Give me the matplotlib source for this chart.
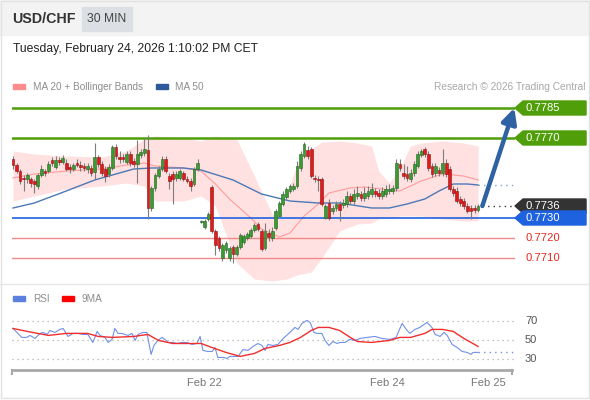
import numpy as np
import matplotlib.pyplot as plt
from matplotlib.patches import Rectangle, Polygon
from matplotlib.lines import Line2D
from matplotlib.transforms import blended_transform_factory

plt.rcParams['font.family'] = ['Liberation Sans', 'DejaVu Sans']

# 30 min candles (USD/CHF)
opens = [0.77595, 0.77565, 0.77535, 0.77500, 0.77495, 0.77495, 0.77485, 0.77460, 0.77515, 0.77535,
         0.77535, 0.77590, 0.77555, 0.77590, 0.77580, 0.77575, 0.77555, 0.77545, 0.77575, 0.77565,
         0.77560, 0.77545, 0.77550, 0.77530, 0.77605, 0.77570, 0.77545, 0.77520, 0.77550, 0.77655,
         0.77605, 0.77605, 0.77580, 0.77620, 0.77585, 0.77570, 0.77615, 0.77625, 0.77640, 0.77350,
         0.77450, 0.77510, 0.77545, 0.77595, 0.77510, 0.77520, 0.77500, 0.77500, 0.77525, 0.77495,
         0.77485, 0.77470, 0.77545, 0.77280, 0.77255, 0.77295, 0.77455, 0.77235, 0.77200, 0.77100,
         0.77140, 0.77100, 0.77155, 0.77120, 0.77155, 0.77180, 0.77200, 0.77210, 0.77240, 0.77270,
         0.77235, 0.77150, 0.77225, 0.77200, 0.77250, 0.77310, 0.77370, 0.77405, 0.77435, 0.77445,
         0.77460, 0.77550, 0.77610, 0.77640, 0.77645, 0.77500, 0.77495, 0.77495, 0.77300, 0.77375,
         0.77335, 0.77350, 0.77370, 0.77365, 0.77370, 0.77410, 0.77385, 0.77410, 0.77420, 0.77400,
         0.77410, 0.77420, 0.77435, 0.77425, 0.77410, 0.77420, 0.77435, 0.77435, 0.77450, 0.77570,
         0.77525, 0.77520, 0.77495, 0.77525, 0.77560, 0.77615, 0.77645, 0.77620, 0.77560, 0.77525,
         0.77540, 0.77525, 0.77575, 0.77545, 0.77445, 0.77435, 0.77395, 0.77385, 0.77360, 0.77350,
         0.77350, 0.77340]
highs = [0.77610, 0.77575, 0.77545, 0.77515, 0.77525, 0.77505, 0.77495, 0.77525, 0.77565, 0.77545,
         0.77585, 0.77605, 0.77610, 0.77605, 0.77615, 0.77595, 0.77570, 0.77575, 0.77595, 0.77585,
         0.77575, 0.77575, 0.77565, 0.77675, 0.77615, 0.77585, 0.77560, 0.77570, 0.77665, 0.77670,
         0.77635, 0.77620, 0.77635, 0.77635, 0.77600, 0.77690, 0.77645, 0.77700, 0.77715, 0.77460,
         0.77525, 0.77560, 0.77610, 0.77610, 0.77525, 0.77535, 0.77535, 0.77545, 0.77535, 0.77510,
         0.77500, 0.77555, 0.77595, 0.77290, 0.77295, 0.77330, 0.77465, 0.77245, 0.77210, 0.77175,
         0.77185, 0.77160, 0.77165, 0.77165, 0.77225, 0.77220, 0.77230, 0.77250, 0.77275, 0.77280,
         0.77245, 0.77275, 0.77245, 0.77255, 0.77345, 0.77385, 0.77435, 0.77455, 0.77470, 0.77475,
         0.77585, 0.77635, 0.77680, 0.77660, 0.77655, 0.77515, 0.77510, 0.77505, 0.77370, 0.77395,
         0.77365, 0.77385, 0.77385, 0.77395, 0.77435, 0.77425, 0.77445, 0.77460, 0.77435, 0.77455,
         0.77460, 0.77475, 0.77450, 0.77445, 0.77455, 0.77465, 0.77470, 0.77465, 0.77595, 0.77595,
         0.77570, 0.77560, 0.77545, 0.77585, 0.77635, 0.77645, 0.77655, 0.77635, 0.77575, 0.77575,
         0.77555, 0.77645, 0.77595, 0.77560, 0.77460, 0.77455, 0.77410, 0.77400, 0.77375, 0.77365,
         0.77365, 0.77370]
lows = [0.77545, 0.77525, 0.77470, 0.77435, 0.77475, 0.77455, 0.77425, 0.77445, 0.77505, 0.77510,
        0.77525, 0.77560, 0.77545, 0.77565, 0.77570, 0.77535, 0.77525, 0.77535, 0.77555, 0.77535,
        0.77535, 0.77525, 0.77510, 0.77495, 0.77555, 0.77510, 0.77480, 0.77505, 0.77540, 0.77595,
        0.77575, 0.77580, 0.77570, 0.77560, 0.77555, 0.77475, 0.77600, 0.77610, 0.77295, 0.77335,
        0.77435, 0.77500, 0.77535, 0.77525, 0.77445, 0.77370, 0.77485, 0.77490, 0.77485, 0.77475,
        0.77435, 0.77460, 0.77535, 0.77275, 0.77245, 0.77285, 0.77225, 0.77115, 0.77135, 0.77085,
        0.77125, 0.77085, 0.77075, 0.77110, 0.77145, 0.77170, 0.77190, 0.77200, 0.77230, 0.77235,
        0.77135, 0.77140, 0.77185, 0.77185, 0.77240, 0.77300, 0.77360, 0.77395, 0.77425, 0.77435,
        0.77450, 0.77535, 0.77600, 0.77595, 0.77500, 0.77480, 0.77435, 0.77360, 0.77295, 0.77290,
        0.77320, 0.77335, 0.77285, 0.77350, 0.77355, 0.77370, 0.77370, 0.77395, 0.77385, 0.77385,
        0.77395, 0.77405, 0.77405, 0.77395, 0.77395, 0.77405, 0.77420, 0.77420, 0.77435, 0.77535,
        0.77495, 0.77485, 0.77480, 0.77510, 0.77550, 0.77605, 0.77605, 0.77535, 0.77505, 0.77510,
        0.77510, 0.77510, 0.77505, 0.77435, 0.77410, 0.77375, 0.77360, 0.77345, 0.77325, 0.77295,
        0.77325, 0.77330]
closes = [0.77565, 0.77535, 0.77485, 0.77495, 0.77515, 0.77475, 0.77470, 0.77515, 0.77545, 0.77525,
          0.77570, 0.77575, 0.77590, 0.77580, 0.77600, 0.77545, 0.77545, 0.77565, 0.77565, 0.77555,
          0.77550, 0.77560, 0.77525, 0.77605, 0.77570, 0.77525, 0.77510, 0.77555, 0.77655, 0.77610,
          0.77595, 0.77595, 0.77620, 0.77575, 0.77570, 0.77620, 0.77630, 0.77645, 0.77350, 0.77450,
          0.77515, 0.77545, 0.77595, 0.77535, 0.77485, 0.77495, 0.77520, 0.77535, 0.77495, 0.77485,
          0.77460, 0.77545, 0.77575, 0.77285, 0.77285, 0.77320, 0.77235, 0.77165, 0.77150, 0.77165,
          0.77175, 0.77150, 0.77120, 0.77155, 0.77215, 0.77210, 0.77220, 0.77240, 0.77265, 0.77245,
          0.77145, 0.77235, 0.77205, 0.77235, 0.77335, 0.77375, 0.77420, 0.77445, 0.77460, 0.77460,
          0.77560, 0.77620, 0.77670, 0.77610, 0.77510, 0.77495, 0.77490, 0.77370, 0.77360, 0.77300,
          0.77350, 0.77370, 0.77340, 0.77375, 0.77410, 0.77385, 0.77420, 0.77425, 0.77400, 0.77425,
          0.77435, 0.77445, 0.77420, 0.77410, 0.77435, 0.77445, 0.77445, 0.77450, 0.77575, 0.77550,
          0.77510, 0.77500, 0.77525, 0.77570, 0.77620, 0.77635, 0.77620, 0.77550, 0.77520, 0.77560,
          0.77525, 0.77575, 0.77520, 0.77445, 0.77425, 0.77385, 0.77375, 0.77360, 0.77335, 0.77335,
          0.77340, 0.77360]

# MA 50, MA 20 and Bollinger bands sampled at candle positions
ma50_pos = [0, 6, 15, 23, 28, 34, 39, 48, 53, 62, 70, 78, 86, 92, 101, 106, 111, 116, 120, 124, 128, 131]
ma50 = [0.77350, 0.77375, 0.77435, 0.77490, 0.77515, 0.77545, 0.77550, 0.77550, 0.77540, 0.77490, 0.77420,
        0.77385, 0.77375, 0.77375, 0.77350, 0.77350, 0.77370, 0.77395, 0.77435, 0.77470, 0.77470, 0.77465]
ma20_pos = [0, 6, 15, 25, 32, 37, 40, 48, 53, 57, 61, 67, 70, 75, 78, 82, 86, 89, 95, 99, 106, 109,
            115, 121, 127, 131]
ma20 = [0.77500, 0.77520, 0.77535, 0.77545, 0.77565, 0.77575, 0.77560, 0.77550, 0.77535, 0.77470, 0.77395,
        0.77300, 0.77245, 0.77205, 0.77225, 0.77310, 0.77370, 0.77425, 0.77450, 0.77455, 0.77440, 0.77435,
        0.77485, 0.77520, 0.77510, 0.77490]
bb_pos = [0, 6, 15, 25, 32, 37, 40, 48, 53, 57, 63, 68, 73, 75, 77, 80, 84, 87, 92, 97, 101, 103, 106,
          109, 112, 115, 121, 127, 131]
bb_upper = [0.77635, 0.77620, 0.77610, 0.77605, 0.77635, 0.77695, 0.77710, 0.77700, 0.77685, 0.77710,
            0.77695, 0.77510, 0.77320, 0.77310, 0.77410, 0.77570, 0.77645, 0.77680, 0.77685, 0.77675,
            0.77660, 0.77535, 0.77475, 0.77550, 0.77660, 0.77675, 0.77685, 0.77675, 0.77660]
bb_lower = [0.77385, 0.77410, 0.77445, 0.77460, 0.77475, 0.77460, 0.77385, 0.77385, 0.77410, 0.77360,
            0.77075, 0.76995, 0.76985, 0.76990, 0.76995, 0.77015, 0.77030, 0.77100, 0.77235, 0.77270,
            0.77275, 0.77295, 0.77300, 0.77310, 0.77310, 0.77310, 0.77295, 0.77285, 0.77285]

# key levels
resist_levels = [0.7785, 0.7770]
support_levels = [0.7730]
lower_levels = [0.7720, 0.7710]
last_price = 0.7736
target = 0.7785

# RSI panel
rsi_pos = [0, 1.4, 2.5, 3.9, 4.8, 6.2, 7.6, 8.5, 9.6, 10.4, 11.8, 13.2, 14.1, 15.5, 16.9, 18.3, 19.7, 21.1,
           22.5, 23.7, 24.5, 25.9, 26.8, 27.9, 28.7, 29.6, 30.7, 31.5, 32.4, 33.5, 34.4, 35.2, 36.6, 37.7,
           38.9, 39.7, 40.8, 42, 42.8, 43.7, 45.1, 46.2, 47.6, 49, 50.4, 51.8, 52.7, 53.5, 54.9, 56.1, 56.9,
           57.7, 59.2, 60.3, 61.1, 62, 63.4, 64.8, 66.2, 67.6, 69, 70.1, 71, 71.8, 73.2, 74.6, 76.1, 78,
           79.4, 80.3, 81.4, 82.8, 83.7, 84.8, 85.6, 87, 87.9, 89, 90.1, 91.3, 92.1, 93.5, 94.9, 96.3, 97.7,
           99.7, 102, 103.9, 106.2, 107.9, 109.6, 111, 111.8, 113.2, 114.6, 116.6, 118, 118.9, 120.3, 121.4,
           122.3, 123.7, 125.1, 126.5, 127.9, 129, 129.6, 131]
rsi = [62.6, 57.4, 53.2, 53.2, 55.3, 52.1, 57.4, 58.4, 56.3, 60.5, 58.4, 61.6, 62.6, 54.2, 57.4, 57.4, 56.3,
       56.3, 47.9, 59.5, 55.3, 53.2, 47.9, 51.1, 62.6, 57.4, 57.4, 56.3, 55.3, 57.4, 50.0, 56.3, 58.4, 58.4,
       35.3, 44.7, 50.0, 53.2, 51.1, 47.9, 47.9, 46.8, 47.9, 47.9, 45.8, 46.8, 54.2, 39.5, 38.4, 38.4, 42.6,
       32.1, 32.1, 31.1, 33.2, 33.2, 33.2, 40.5, 39.5, 43.7, 46.8, 44.7, 39.5, 45.8, 44.7, 45.8, 52.1, 58.4,
       63.7, 61.6, 67.9, 71.1, 68.9, 58.4, 57.4, 57.4, 50.0, 44.7, 48.9, 46.8, 47.9, 47.9, 51.1, 50.0, 52.1,
       53.2, 54.2, 52.1, 51.1, 53.2, 67.9, 60.5, 57.4, 61.6, 63.7, 68.9, 63.7, 56.3, 54.2, 58.4, 55.3, 45.8,
       42.6, 38.4, 37.4, 35.3, 37.4, 37.4]
rsi_ma_pos = [0, 4, 10, 15, 21, 24, 28, 34, 38, 41, 45, 49, 53, 56, 60, 64, 68, 71, 75, 78, 81, 84, 86, 89,
              92, 95, 97, 101, 106, 109, 112, 116, 118, 121, 124, 127, 131]
rsi_ma = [62.6, 59.5, 55.3, 57.4, 57.4, 54.2, 53.2, 54.2, 56.3, 50.0, 46.8, 46.8, 46.8, 42.6, 37.4, 33.2,
          36.3, 41.6, 44.7, 47.9, 53.2, 60.5, 63.7, 63.7, 60.5, 53.2, 48.9, 47.9, 50.0, 53.2, 53.2, 57.4, 61.6,
          61.6, 59.5, 52.1, 43.7]
rsi_levels = [70, 50, 30]

date_pos = [53.8, 105.4, 133.8]
date_labels = ['Feb 22', 'Feb 24', 'Feb 25']

W, H = 590, 400
fig = plt.figure(figsize=(W / 100, H / 100), dpi=100)
fig.patch.set_facecolor('white')


def fx(x):
    return x / W


def fy(y):
    return 1 - y / H


# header
fig.add_artist(Rectangle((0, fy(35)), 1, 35 / H, transform=fig.transFigure,
                         color='#f3f3f3', zorder=0))
fig.add_artist(Rectangle((fx(82), fy(31)), 50 / W, 24 / H, transform=fig.transFigure,
                         color='#dcdfe3', zorder=1))
fig.text(fx(12), fy(19), 'USD/CHF', fontsize=10.3, fontweight='bold', color='#333333', va='center')
fig.text(fx(107), fy(19), '30 MIN', fontsize=8.7, color='#444444', va='center', ha='center')
fig.text(fx(13), fy(49), 'Tuesday, February 24, 2026 1:10:02 PM CET', fontsize=8.7,
         color='#222222', va='center')

# legend row
fig.add_artist(Rectangle((fx(13), fy(89)), 12 / W, 5 / H, transform=fig.transFigure, color='#ff8c8c'))
fig.text(fx(33), fy(86.5), 'MA 20 + Bollinger Bands', fontsize=7.2, color='#8c8c8c', va='center')
fig.add_artist(Rectangle((fx(156), fy(89)), 12 / W, 5 / H, transform=fig.transFigure, color='#2d5a9a'))
fig.text(fx(175), fy(86.5), 'MA 50', fontsize=7.2, color='#8c8c8c', va='center')
fig.text(fx(586), fy(86.5), 'Research \u00a9 2026 Trading Central', fontsize=7.3, color='#a8a8a8',
         va='center', ha='right')

# separators and frame
fig.add_artist(Line2D([0, 1], [fy(284), fy(284)], transform=fig.transFigure, color='#e6e6e6', lw=1))
fig.add_artist(Rectangle((0.001, 0.006), 0.997, 0.992, transform=fig.transFigure, fill=False,
                         edgecolor='#e2e2e2', lw=1))

# price panel
ax = fig.add_axes([fx(12), fy(285), (515 - 12) / W, (285 - 96) / H])
ax.set_xlim(-0.28, 141.4)
ax.set_ylim(0.76965, 0.7791)
ax.axis('off')

o = np.array(opens)
c = np.array(closes)
hi = np.array(highs)
lo = np.array(lows)
idx = np.arange(len(c))
up = c >= o
body = np.maximum(np.abs(c - o), 0.00002)
bottom = np.minimum(o, c)

ax.fill_between(bb_pos, bb_lower, bb_upper, color='#ffe1e1', lw=0, zorder=1)
ax.plot(ma20_pos, ma20, color='#ff9b9b', lw=0.8, zorder=2)
ax.plot(ma50_pos, ma50, color='#4c78b5', lw=1.0, zorder=2)
ax.plot([ma50_pos[-1], 141.4], [ma50[-1], ma50[-1]], color='#7f9fd0', lw=1, ls=(0, (1, 3)), zorder=2)

for lv in resist_levels:
    ax.axhline(lv, color='#4f9e0a', lw=1.8, zorder=2)
for lv in support_levels:
    ax.axhline(lv, color='#1f62e0', lw=1.2, zorder=2)
for lv in lower_levels:
    ax.axhline(lv, color='#f28a8a', lw=1.0, zorder=2)
ax.plot([idx[-1] + 1, 141.4], [last_price, last_price], color='#333333', lw=1, ls=(0, (1, 3)), zorder=2)

ax.vlines(idx, lo, hi, color='#7d7d7d', lw=0.8, zorder=3)
ax.bar(idx[up], body[up], bottom=bottom[up], width=0.78, color='#3a9a34', edgecolor='#25631f',
       lw=0.4, zorder=4)
ax.bar(idx[~up], body[~up], bottom=bottom[~up], width=0.78, color='#e01b1b', edgecolor='#8f1010',
       lw=0.4, zorder=4)

ax.annotate('', xy=(141.2, target), xytext=(132.2, closes[-1]),
            arrowprops=dict(arrowstyle='-|>,head_length=0.9,head_width=0.45', color='#2f62a3', lw=3.2,
                            shrinkA=0, shrinkB=0),
            annotation_clip=False, zorder=6)

# right-hand price labels
tr = blended_transform_factory(ax.transAxes, ax.transData)
x0, x1, x2 = 1.0, 1.016, 1.1412
half = 0.00035
boxes = [(resist_levels[0], '#4f9e0a'), (resist_levels[1], '#4f9e0a'),
         (last_price, '#333333'), (support_levels[0], '#1f62e0')]
for lv, col in boxes:
    poly = Polygon([(x0, lv), (x1, lv + half), (x2, lv + half), (x2, lv - half), (x1, lv - half)],
                   closed=True, transform=tr, color=col, clip_on=False, zorder=5)
    ax.add_patch(poly)
    ax.text(1.02, lv, f'{lv:.4f}', transform=tr, color='white', fontsize=8.1, va='center',
            ha='left', zorder=6)
for lv in lower_levels:
    ax.text(1.02, lv, f'{lv:.4f}', transform=tr, color='#e8281e', fontsize=8.1, va='center', ha='left')

# RSI panel
fig.add_artist(Rectangle((fx(13), fy(301)), 12 / W, 5 / H, transform=fig.transFigure, color='#5b80e0'))
fig.text(fx(33), fy(298.5), 'RSI', fontsize=7.2, color='#8c8c8c', va='center')
fig.add_artist(Rectangle((fx(62), fy(301)), 12 / W, 5 / H, transform=fig.transFigure, color='#ff0000'))
fig.text(fx(82), fy(298.5), '9MA', fontsize=7.2, color='#8c8c8c', va='center')

ax2 = fig.add_axes([fx(12), fy(370), (515 - 12) / W, (370 - 305) / H])
ax2.set_xlim(-0.28, 141.4)
ax2.set_ylim(18.9, 87.3)
for s in ['top', 'right', 'left']:
    ax2.spines[s].set_visible(False)
ax2.spines['bottom'].set_color('#a9a9a9')
ax2.spines['bottom'].set_linewidth(2)
ax2.spines['bottom'].set_bounds(-0.28, 140.5)
ax2.set_yticks([])
ax2.set_xticks(date_pos)
ax2.set_xticklabels(date_labels, fontsize=8, color='#777777')
ax2.tick_params(axis='x', length=0, pad=6)
for xe in [-0.28, 140.5]:
    ax2.plot([xe, xe], [18.9, 14.5], color='#a9a9a9', lw=1.5, clip_on=False)

for lv in rsi_levels:
    ax2.plot([-0.28, 142], [lv, lv], color='#b0b0b0', lw=0.9, ls=(0, (1, 3)), clip_on=False)
    ax2.text(1.02, lv, str(lv), transform=blended_transform_factory(ax2.transAxes, ax2.transData),
             fontsize=8, color='#555555', va='center')
ax2.plot(rsi_pos, rsi, color='#7090e8', lw=0.8)
ax2.plot([rsi_pos[-1], 141.4], [rsi[-1], rsi[-1]], color='#7090e8', lw=1, ls=(0, (1, 3)))
ax2.plot(rsi_ma_pos, rsi_ma, color='#f02e2e', lw=1.0)

fig.savefig('out.png', dpi=100)
